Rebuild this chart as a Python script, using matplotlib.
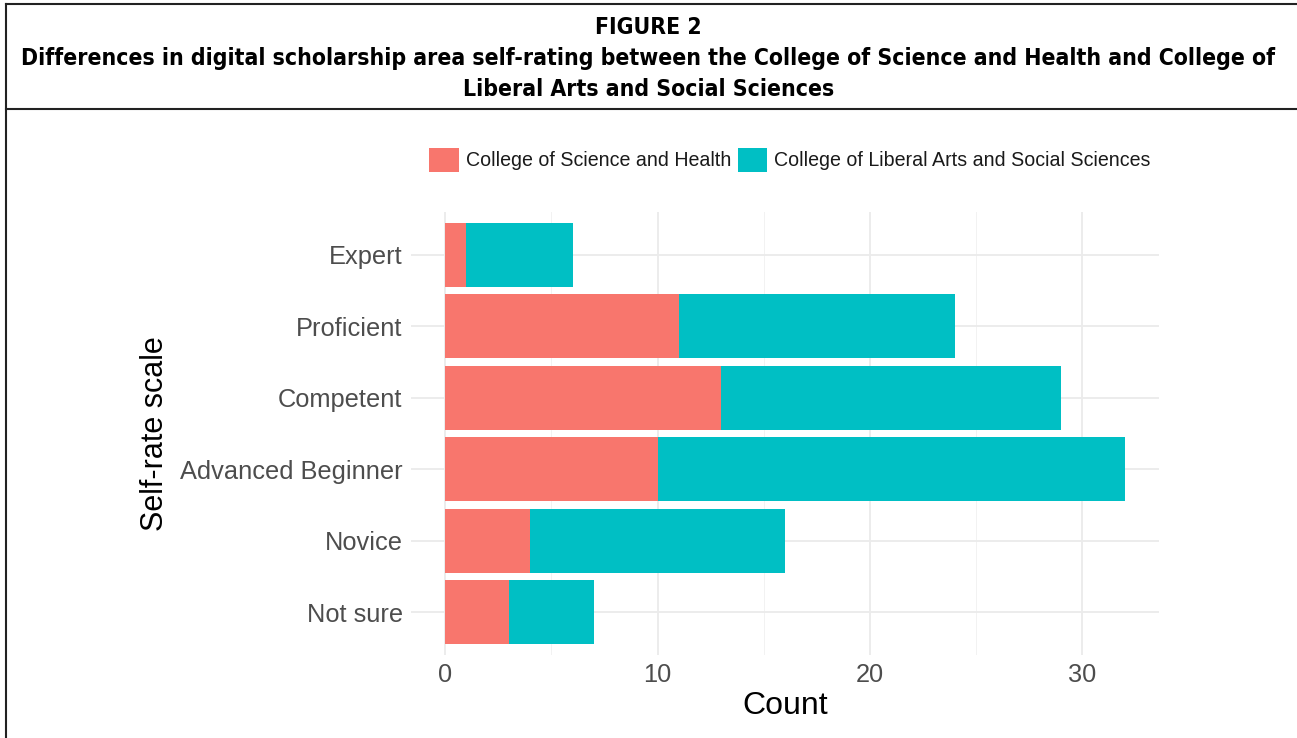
import matplotlib
matplotlib.use("Agg")
import matplotlib.pyplot as plt
from matplotlib.lines import Line2D
from matplotlib.patches import Patch
import numpy as np

levels = ["Not sure", "Novice", "Advanced Beginner", "Competent", "Proficient", "Expert"]
science_health = [3, 4, 10, 13, 11, 1]
liberal_arts = [4, 12, 22, 16, 13, 5]
groups = ["College of Science and Health", "College of Liberal Arts and Social Sciences"]
colors = ["#F8766D", "#00BFC4"]

plt.rcParams["font.family"] = ["Liberation Sans", "DejaVu Sans"]

fig = plt.figure(figsize=(12.97, 7.38), dpi=100)
ax = fig.add_axes([411/1297, 1 - 655/738, (1159 - 411)/1297, (655 - 212)/738])

y = np.arange(len(levels))
ax.barh(y, science_health, height=0.9, color=colors[0], zorder=3)
ax.barh(y, liberal_arts, left=science_health, height=0.9, color=colors[1], zorder=3)

total_max = max(a + b for a, b in zip(science_health, liberal_arts))
ax.set_xlim(-0.05 * total_max, total_max * 1.05)
ax.set_ylim(-0.6, len(levels) - 0.4)
ax.set_yticks(y)
ax.set_yticklabels(levels)
ax.set_xticks([0, 10, 20, 30])
ax.set_xticks([5, 15, 25], minor=True)
ax.grid(True, which="major", color="#EBEBEB", lw=1.3, zorder=0)
ax.grid(True, which="minor", axis="x", color="#F2F2F2", lw=0.7, zorder=0)
ax.tick_params(which="both", length=0, labelsize=18.3, labelcolor="#4D4D4D", pad=6)
for s in ax.spines.values():
    s.set_visible(False)
ax.set_xlabel("Count", fontsize=23, labelpad=3)
ax.set_ylabel("Self-rate scale", fontsize=22, labelpad=7)

handles = [Patch(facecolor=c) for c in colors]
fig.legend(handles, groups, loc="center", bbox_to_anchor=(790/1297, 1 - 160/738),
           ncol=2, frameon=False, fontsize=14.1, handlelength=1.5, handleheight=1.5,
           handletextpad=0.35, columnspacing=0.35, labelcolor="#1A1A1A")

# header box
hdr = dict(ha="center", va="center", fontsize=16.5, fontweight="bold",
           family="DejaVu Sans", fontstretch="condensed")
fig.text(0.5, 1 - 27/738, "FIGURE 2", **hdr)
fig.text(0.5, 1 - 58/738,
         "Differences in digital scholarship area self-rating between the College of Science and Health and College of",
         **hdr)
fig.text(0.5, 1 - 89/738, "Liberal Arts and Social Sciences", **hdr)
fig.add_artist(Line2D([6/1297, 1], [1 - 4/738, 1 - 4/738], color="#222222", lw=1.5))
fig.add_artist(Line2D([6/1297, 1], [1 - 109/738, 1 - 109/738], color="#222222", lw=1.5))
fig.add_artist(Line2D([6/1297, 6/1297], [0, 1 - 4/738], color="#222222", lw=1.5))

fig.savefig("out.png", dpi=100)
